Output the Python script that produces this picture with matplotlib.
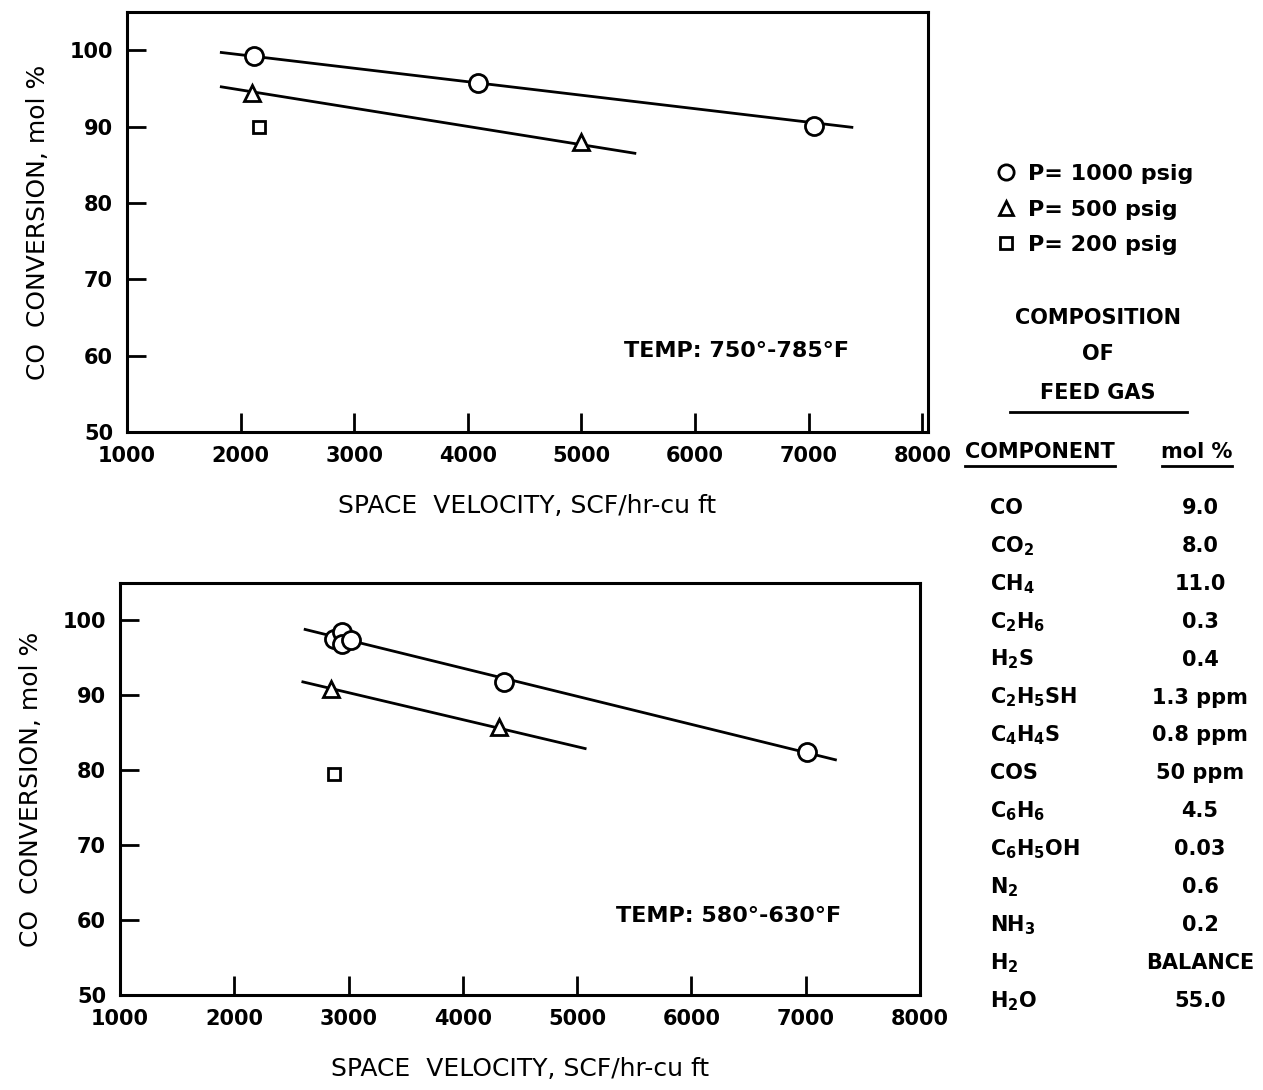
import matplotlib
matplotlib.use("Agg")
import matplotlib.pyplot as plt
from matplotlib.lines import Line2D

plt.rcParams['font.family'] = ['DejaVu Sans']
plt.rcParams['mathtext.default'] = 'regular'

# data
# top panel, 750-785 F
top_1000_x = [2120, 4090, 7050]
top_1000_y = [99.2, 95.7, 90.1]
top_500_x = [2100, 5000]
top_500_y = [94.4, 88.0]
top_200_x = [2160]
top_200_y = [90.0]
top_fit_1000_x = [1830, 7380]
top_fit_1000_y = [99.7, 89.9]
top_fit_500_x = [1830, 5470]
top_fit_500_y = [95.2, 86.5]

# bottom panel, 580-630 F
bot_1000_x = [2870, 2940, 2940, 3020, 4360, 7010]
bot_1000_y = [97.5, 98.4, 96.8, 97.4, 91.8, 82.5]
bot_500_x = [2850, 4320]
bot_500_y = [90.9, 85.8]
bot_200_x = [2870]
bot_200_y = [79.5]
bot_fit_1000_x = [2620, 7260]
bot_fit_1000_y = [98.8, 81.4]
bot_fit_500_x = [2600, 5070]
bot_fit_500_y = [91.8, 82.9]

xticks = [1000, 2000, 3000, 4000, 5000, 6000, 7000, 8000]
yticks = [50, 60, 70, 80, 90, 100]

components = [r'CO', r'CO$_2$', r'CH$_4$', r'C$_2$H$_6$', r'H$_2$S', r'C$_2$H$_5$SH',
              r'C$_4$H$_4$S', r'COS', r'C$_6$H$_6$', r'C$_6$H$_5$OH', r'N$_2$',
              r'NH$_3$', r'H$_2$', r'H$_2$O']
mol_pct = ['9.0', '8.0', '11.0', '0.3', '0.4', '1.3 ppm', '0.8 ppm', '50 ppm',
           '4.5', '0.03', '0.6', '0.2', 'BALANCE', '55.0']

W, H = 1263, 1090
fig = plt.figure(figsize=(W / 100, H / 100), dpi=100)


def px(x0, y0, x1, y1):
    return [x0 / W, 1 - y1 / H, (x1 - x0) / W, (y1 - y0) / H]


def style(ax, xmax, temp, tx):
    ax.set_xlim(1000, xmax)
    ax.set_ylim(50, 105)
    ax.set_xticks(xticks)
    ax.set_yticks(yticks)
    ax.tick_params(direction='in', length=14, width=2, labelsize=15, pad=10)
    for lab in ax.get_xticklabels() + ax.get_yticklabels():
        lab.set_fontweight('bold')
    for s in ax.spines.values():
        s.set_linewidth(2.2)
    ax.set_xlabel('SPACE  VELOCITY, SCF/hr-cu ft', fontsize=18, labelpad=20)
    ax.set_ylabel('CO  CONVERSION, mol %', fontsize=18, labelpad=14)
    ax.text(tx, 60.6, temp, fontsize=16, fontweight='bold', va='center')


mk = dict(color='black', markerfacecolor='white', markeredgewidth=2, linestyle='none')

ax1 = fig.add_axes(px(127, 12, 928, 432))
ax1.plot(top_fit_1000_x, top_fit_1000_y, color='black', lw=2)
ax1.plot(top_fit_500_x, top_fit_500_y, color='black', lw=2)
ax1.plot(top_1000_x, top_1000_y, marker='o', markersize=13, **mk)
ax1.plot(top_500_x, top_500_y, marker='^', markersize=12, **mk)
ax1.plot(top_200_x, top_200_y, marker='s', markersize=9, **mk)
style(ax1, 8050, 'TEMP: 750°-785°F', 5370)

ax2 = fig.add_axes(px(120, 583, 920, 995))
ax2.plot(bot_fit_1000_x, bot_fit_1000_y, color='black', lw=2)
ax2.plot(bot_fit_500_x, bot_fit_500_y, color='black', lw=2)
ax2.plot(bot_1000_x, bot_1000_y, marker='o', markersize=13, **mk)
ax2.plot(bot_500_x, bot_500_y, marker='^', markersize=12, **mk)
ax2.plot(bot_200_x, bot_200_y, marker='s', markersize=9, **mk)
style(ax2, 8000, 'TEMP: 580°-630°F', 5340)

# legend
handles = [Line2D([], [], marker='o', markersize=11, **mk),
           Line2D([], [], marker='^', markersize=10, **mk),
           Line2D([], [], marker='s', markersize=9, **mk)]
labels = ['P= 1000 psig', 'P= 500 psig', 'P= 200 psig']
fig.legend(handles, labels, loc='upper left', bbox_to_anchor=(984 / W, 1 - 153 / H),
           frameon=False, handlelength=1, handletextpad=0.5,
           labelspacing=0.7, borderpad=0, prop={'weight': 'bold', 'size': 16})

# composition table
cx = 1098 / W
fs = 15
fig.text(cx, 1 - 318 / H, 'COMPOSITION', ha='center', va='center', fontsize=fs, fontweight='bold')
fig.text(cx, 1 - 354 / H, 'OF', ha='center', va='center', fontsize=fs, fontweight='bold')
fig.text(cx, 1 - 393 / H, 'FEED GAS', ha='center', va='center', fontsize=fs, fontweight='bold')
fig.add_artist(Line2D([1010 / W, 1187 / W], [1 - 412 / H] * 2, color='black', lw=2))

fig.text(1040 / W, 1 - 452 / H, 'COMPONENT', ha='center', va='center', fontsize=fs, fontweight='bold')
fig.add_artist(Line2D([965 / W, 1115 / W], [1 - 466 / H] * 2, color='black', lw=2))
fig.text(1197 / W, 1 - 452 / H, 'mol %', ha='center', va='center', fontsize=fs, fontweight='bold')
fig.add_artist(Line2D([1162 / W, 1232 / W], [1 - 466 / H] * 2, color='black', lw=2))

row_y0, row_dy = 508, 37.9
for i, (c, v) in enumerate(zip(components, mol_pct)):
    y = 1 - (row_y0 + i * row_dy) / H
    fig.text(990 / W, y, c, ha='left', va='center', fontsize=fs, fontweight='bold')
    fig.text(1200 / W, y, v, ha='center', va='center', fontsize=fs, fontweight='bold')

fig.savefig('out.png', dpi=100, facecolor='white')
